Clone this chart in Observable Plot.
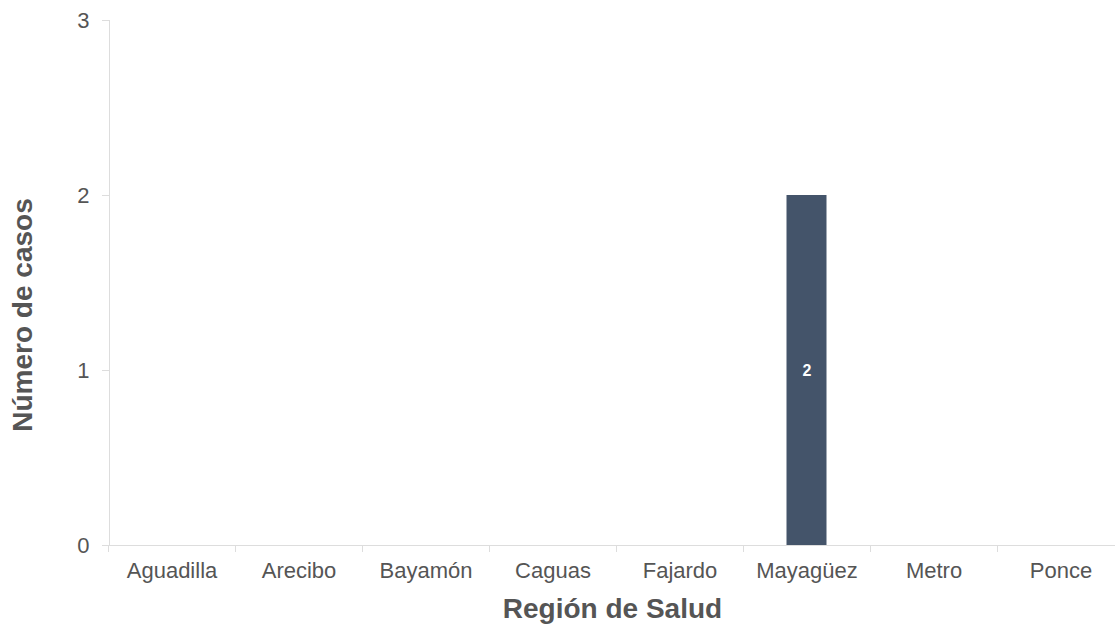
<!DOCTYPE html>
<html><head><meta charset="utf-8">
<script src="https://cdn.jsdelivr.net/npm/d3@7"></script>
<script src="https://cdn.jsdelivr.net/npm/@observablehq/plot@0.6"></script>
<style>body{margin:0;background:#fff}</style></head>
<body><div id="chart"></div>
<script>
const regions = ["Aguadilla","Arecibo","Bayamón","Caguas","Fajardo","Mayagüez","Metro","Ponce"];
const cases = [0,0,0,0,0,2,0,0];
const yTicks = [0,1,2,3];
const yTitle = "Número de casos";
const xTitle = "Región de Salud";

const data = regions.map((r,i)=>({region:r, cases:cases[i]}));
const W = 1115, H = 626, left = 109, step = 127;
const grey = "#ddd", ink = "#555";

const chart = Plot.plot({
  width: W, height: H,
  marginLeft: left, marginRight: 0, marginTop: 20, marginBottom: 81,
  style: {fontFamily: "'Liberation Sans', Arial, sans-serif", background: "#fff", overflow: "hidden"},
  x: {type: "band", domain: regions, range: [left - 1, left - 1 + step*regions.length], padding: 0, label: null},
  y: {domain: [0,3], label: null},
  marks: [
    Plot.frame({anchor: "left", stroke: grey}),
    Plot.ruleY([0], {stroke: grey}),
    Plot.ruleX(regions, {x: d=>d, dx: -step/2, y1: 0, y2: 0, insetBottom: -7, stroke: grey}),
    Plot.axisY(yTicks, {tickSize: 7, tickPadding: 13, stroke: grey, fill: ink, fontSize: 22, tickFormat: "d", label: null}),
    Plot.axisX({tickSize: 0, tickPadding: 17, fill: ink, fontSize: 22, label: null}),
    Plot.barY(data, {x: "region", y: "cases", fill: "#44546a", insetLeft: 43.5, insetRight: 43.5}),
    Plot.text(data.filter(d=>d.cases>0), {x: "region", y: d=>d.cases/2, text: d=>String(d.cases), fill: "white", fontWeight: "bold", fontSize: 16}),
    Plot.text([yTitle], {frameAnchor: "left", textAnchor: "middle", lineAnchor: "middle", rotate: -90, dx: -86, dy: 32, fontSize: 28, fontWeight: "bold", fill: ink}),
    Plot.text([xTitle], {frameAnchor: "bottom", lineAnchor: "middle", dy: 64, fontSize: 28, fontWeight: "bold", fill: ink})
  ]
});
document.getElementById("chart").append(chart);
</script></body></html>
